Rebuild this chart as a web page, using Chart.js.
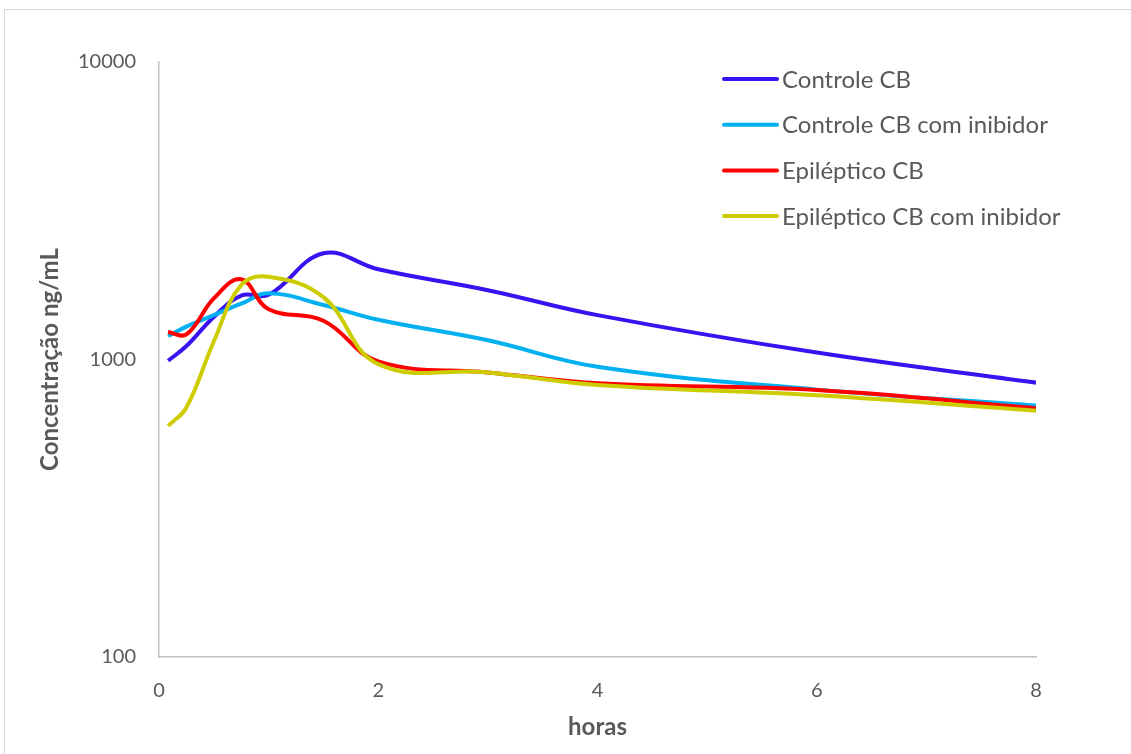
<!DOCTYPE html>
<html>
<head>
    <title>Concentração</title>
    <script src="https://cdn.jsdelivr.net/npm/chart.js"></script>
    <style>
        body { margin: 0; background: #ffffff; }
        #wrap { width: 1131px; height: 754px; }
    </style>
</head>
<body>
    <div id="wrap">
        <canvas id="chart" width="1131" height="754"></canvas>
    </div>

    <script>
        // tempos (horas)
        const horas = [0.083, 0.25, 0.5, 0.75, 1, 1.5, 2, 3, 4, 6, 8];

        // concentração ng/mL por grupo
        const controleCB = [990, 1110, 1390, 1640, 1650, 2275, 2010, 1710, 1410, 1055, 836];
        const controleCBInib = [1200, 1290, 1410, 1540, 1670, 1525, 1360, 1160, 945, 792, 700];
        const epilepticoCB = [1237, 1215, 1605, 1860, 1475, 1350, 985, 905, 832, 790, 686];
        const epilepticoCBInib = [598, 690, 1150, 1780, 1898, 1620, 965, 905, 821, 758, 673];

        const yTicks = [100, 1000, 10000];
        const xTicks = [0, 2, 4, 6, 8];

        const fontFamily = 'Lato, "Open Sans", sans-serif';

        function pts(ys) {
            return horas.map((h, i) => ({ x: h, y: ys[i] }));
        }

        // borda externa da figura
        const borderPlugin = {
            id: 'outerBorder',
            beforeDraw(chart) {
                const ctx = chart.ctx;
                ctx.save();
                ctx.fillStyle = '#ffffff';
                ctx.fillRect(0, 0, chart.width, chart.height);
                ctx.strokeStyle = '#d9d9d9';
                ctx.lineWidth = 1;
                ctx.strokeRect(4.5, 9.5, 2000, 2000);
                ctx.restore();
            }
        };

        // legenda dentro da área do gráfico
        const legendPlugin = {
            id: 'insideLegend',
            afterDraw(chart) {
                const ctx = chart.ctx;
                ctx.save();
                ctx.font = '24px ' + fontFamily;
                ctx.textBaseline = 'middle';
                chart.data.datasets.forEach((ds, i) => {
                    const y = 79 + i * 45.7;
                    ctx.strokeStyle = ds.borderColor;
                    ctx.lineWidth = 4;
                    ctx.lineCap = 'round';
                    ctx.beginPath();
                    ctx.moveTo(724, y);
                    ctx.lineTo(777, y);
                    ctx.stroke();
                    ctx.fillStyle = '#595959';
                    ctx.fillText(ds.label, 782, y + 1);
                });
                ctx.restore();
            }
        };

        const ctx = document.getElementById('chart').getContext('2d');
        new Chart(ctx, {
            type: 'line',
            data: {
                datasets: [
                    { label: 'Controle CB', data: pts(controleCB), borderColor: '#3a12f2', order: 4 },
                    { label: 'Controle CB com inibidor', data: pts(controleCBInib), borderColor: '#00b0f0', order: 3 },
                    { label: 'Epiléptico CB', data: pts(epilepticoCB), borderColor: '#ff0000', order: 2 },
                    { label: 'Epiléptico CB com inibidor', data: pts(epilepticoCBInib), borderColor: '#cccc00', order: 1 }
                ]
            },
            options: {
                responsive: false,
                animation: false,
                layout: { padding: { top: 62, right: 95, left: 0, bottom: 0 } },
                elements: {
                    line: { borderWidth: 4, tension: 0.4, fill: false },
                    point: { radius: 0 }
                },
                plugins: {
                    legend: { display: false },
                    tooltip: { enabled: false }
                },
                scales: {
                    x: {
                        type: 'linear',
                        min: 0,
                        max: 8,
                        afterBuildTicks: s => { s.ticks = xTicks.map(v => ({ value: v })); },
                        afterFit: s => { s.height = 97; },
                        grid: { display: false, drawTicks: false },
                        border: { display: true, color: '#bfbfbf', width: 1.5 },
                        ticks: { color: '#595959', font: { family: fontFamily, size: 20 }, padding: 22 },
                        title: {
                            display: true,
                            text: 'horas',
                            color: '#595959',
                            font: { family: fontFamily, size: 24, weight: 'bold' },
                            padding: { top: 0, bottom: 12 }
                        }
                    },
                    y: {
                        type: 'logarithmic',
                        min: 100,
                        max: 10000,
                        afterBuildTicks: s => { s.ticks = yTicks.map(v => ({ value: v })); },
                        afterFit: s => { s.width = 159; },
                        grid: { display: false, drawTicks: false },
                        border: { display: true, color: '#bfbfbf', width: 1.5 },
                        ticks: {
                            color: '#595959',
                            font: { family: fontFamily, size: 20 },
                            padding: 23,
                            callback: v => String(v)
                        },
                        title: {
                            display: true,
                            text: 'Concentração ng/mL',
                            color: '#595959',
                            font: { family: fontFamily, size: 24, weight: 'bold' },
                            padding: { top: 36, bottom: 0 }
                        }
                    }
                }
            },
            plugins: [borderPlugin, legendPlugin]
        });
    </script>
</body>
</html>
